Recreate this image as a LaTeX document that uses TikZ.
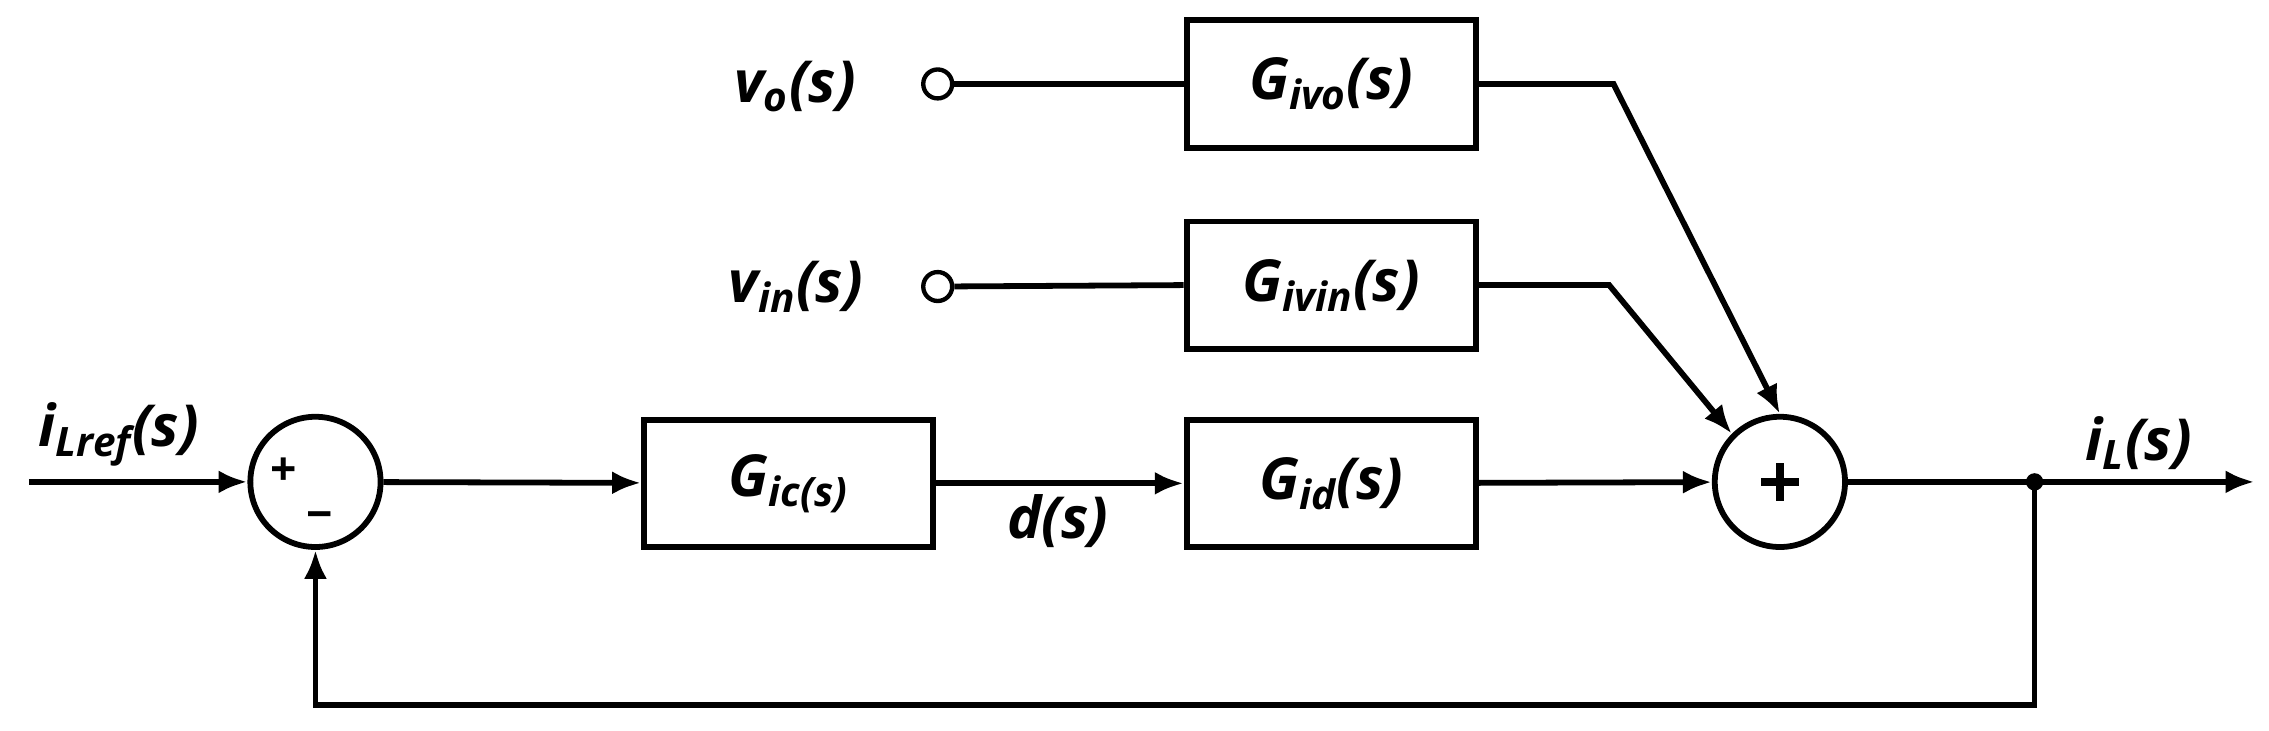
\documentclass[tikz,border=0pt]{standalone}
\usepackage{fontspec}
\setmainfont{Open Sans}
\usetikzlibrary{arrows.meta,calc}
\begin{document}
\begin{tikzpicture}[x=0.5pt,y=-0.5pt,line width=2pt,
  blk/.style={draw,minimum width=100pt,minimum height=44pt,font=\bfseries\itshape\fontsize{20}{24}\selectfont},
  sum/.style={draw,circle,minimum size=45pt,inner sep=0pt},
  lbl/.style={font=\bfseries\itshape\fontsize{20}{24}\selectfont},
  term/.style={draw,circle,minimum size=10pt,inner sep=0pt,line width=1.5pt},
  arr/.style={-{Latex[length=10pt,width=8pt]}}]
\useasboundingbox (0,0) rectangle (1568,505);
\node[sum] (s1) at (218,333) {};
\node[sum] (s2) at (1230,333) {};
\draw[line width=2.5pt] ($(s2)+(-13,0)$) -- +(26,0) ($(s2)+(0,-13)$) -- +(0,26);
\node[font=\bfseries\fontsize{16}{18}\selectfont] at (196,326) {+};
\node[font=\bfseries\fontsize{16}{18}\selectfont] at (221,360) {\textminus};
\node[blk] (gic) at (545,334) {G\textsubscript{ic(s)}};
\node[blk] (gid) at (920,334) {G\textsubscript{id}(s)};
\node[blk] (gvin) at (920,197) {G\textsubscript{ivin}(s)};
\node[blk] (gvo) at (920,58) {G\textsubscript{ivo}(s)};
\node[term] (to) at (648,58) {};
\node[term] (tin) at (648,198) {};
\node[lbl,anchor=east] at (600,60) {v\textsubscript{o}(s)};
\node[lbl,anchor=east] at (605,198) {v\textsubscript{in}(s)};
\coordinate (in) at (20,333);
\coordinate (out) at (1558,333);
\coordinate (br) at (1406,333);
\coordinate (fb) at (1406,487);
\node[lbl] at (82,300) {i\textsubscript{Lref}(s)};
\node[lbl] at (1478,306) {i\textsubscript{L}(s)};
\node[lbl] at (731,360) {d(s)};
\draw[arr] (in) -- (s1);
\draw[arr] (s1) -- (gic);
\draw[arr] (gic) -- (gid);
\draw[arr] (gid) -- (s2);
\draw (to) -- (gvo.west);
\draw (tin) -- (gvin.west);
\draw[arr] (gvo.east) -- (1115,58) -- (s2.north);
\draw[arr] (gvin.east) -- (1112,197) -- (s2.135);
\draw[arr] (s2.east) -- (out);
\fill (br) circle (6);
\draw[arr] (br) -- (fb) -- (fb -| s1) -- (s1.south);
\end{tikzpicture}
\end{document}
